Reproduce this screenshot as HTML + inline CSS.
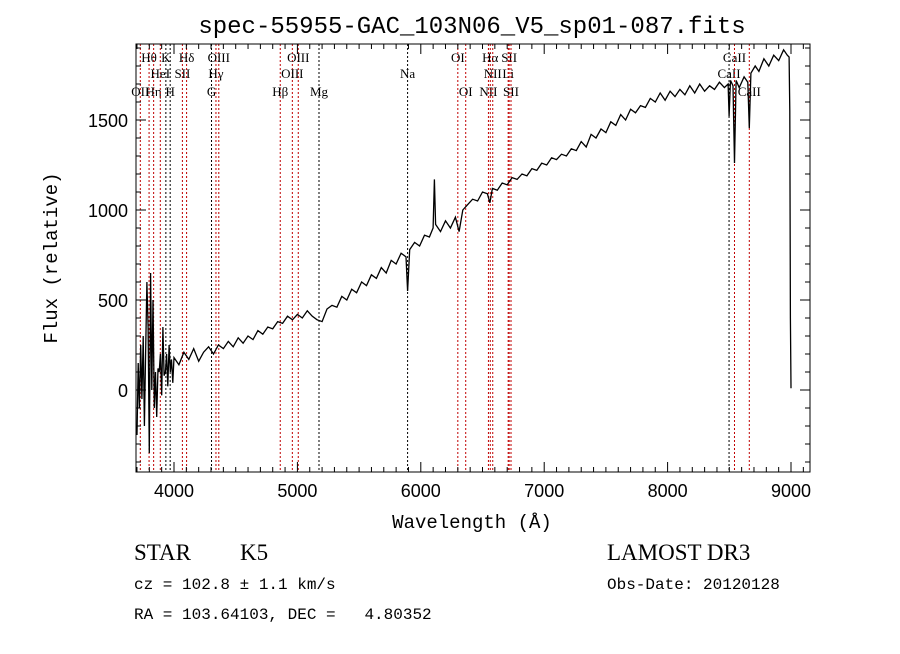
<!DOCTYPE html>
<html><head><meta charset="utf-8"><style>
body{margin:0;background:#fff;}
svg text{font-family:"Liberation Serif",serif;}
</style></head><body>
<svg id="chart" width="900" height="649" viewBox="0 0 900 649" xmlns="http://www.w3.org/2000/svg">
<rect width="900" height="649" fill="#fff"/>
<text x="472" y="33" font-size="24" text-anchor="middle" style="font-family:'Liberation Mono',monospace">spec-55955-GAC_103N06_V5_sp01-087.fits</text>
<g id="lines"></g>
<g id="spec"></g>
<g id="axes"></g>
<text x="472" y="528" font-size="19" text-anchor="middle" style="font-family:'Liberation Mono',monospace">Wavelength (Å)</text>
<text transform="translate(57,258) rotate(-90)" font-size="19" text-anchor="middle" style="font-family:'Liberation Mono',monospace">Flux (relative)</text>
<text x="134" y="560" font-size="23">STAR</text>
<text x="240" y="560" font-size="23">K5</text>
<text x="607" y="560" font-size="23">LAMOST DR3</text>
<text x="134" y="589" font-size="16" style="font-family:'Liberation Mono',monospace">cz = 102.8 ± 1.1 km/s</text>
<text x="607" y="589" font-size="16" style="font-family:'Liberation Mono',monospace">Obs-Date: 20120128</text>
<text x="134" y="619" font-size="16" style="font-family:'Liberation Mono',monospace" xml:space="preserve">RA = 103.64103, DEC =   4.80352</text>
</svg>
<script>
const waves = [3700,3710,3720,3730,3740,3750,3760,3770,3780,3790,3800,3810,3820,3830,3840,3850,3860,3870,3880,3890,3900,3910,3920,3930,3940,3950,3960,3970,3980,3990,
4000,4040,4080,4120,4160,4200,4240,4280,4320,4360,4400,4440,4480,4520,4560,4600,4640,4680,4720,4760,4800,4840,4880,4920,4960,5000,
5040,5080,5120,5160,5200,5240,5280,5320,5360,5400,5440,5480,5520,5560,5600,5640,5680,5720,5760,5800,5840,5880,5893,5910,5950,5990,6030,6070,6100,6110,6120,6160,6200,6240,6280,6310,6340,6380,6420,6460,6500,6540,6560,6580,6620,6660,6700,6740,6780,6820,6860,6900,6940,6980,
7020,7060,7100,7140,7180,7220,7260,7300,7340,7380,7420,7460,7500,7540,7580,7620,7660,7700,7740,7780,7820,7860,7900,7940,7980,
8020,8060,8100,8140,8180,8220,8260,8300,8340,8380,8420,8460,8490,8498,8510,8530,8542,8555,8580,8620,8650,8662,8675,8710,8740,8780,8820,8860,8900,8940,8970,8985,8990,8995,9000];
const flux = [-250,150,-100,250,-50,300,-200,200,600,350,-350,650,0,500,-100,100,-150,120,100,200,-30,350,80,100,200,20,250,100,170,40,
180,140,210,170,230,160,210,240,200,250,230,270,240,290,260,300,280,330,310,350,340,380,370,410,390,420,
400,440,410,390,380,450,470,460,520,500,560,540,600,580,640,620,680,650,720,700,760,740,550,780,820,800,860,850,900,1170,920,880,940,900,960,880,1000,1030,1060,1050,1100,1090,1040,1120,1110,1150,1140,1180,1170,1200,1190,1230,1220,1260,
1250,1290,1280,1310,1300,1340,1330,1380,1350,1420,1400,1450,1430,1490,1470,1530,1500,1560,1540,1580,1570,1620,1600,1650,1610,
1660,1630,1670,1640,1690,1650,1700,1660,1690,1670,1710,1680,1700,1520,1720,1690,1261,1720,1680,1740,1710,1455,1760,1800,1770,1840,1800,1860,1830,1890,1860,1850,1550,400,10];
const majorX = [4000,5000,6000,7000,8000,9000];
const majorY = [0,500,1000,1500];
const lineWaves = [3727,3798,3835,3889,3934,3969,4068,4102,4304,4340,4363,4861,4959,5007,5175,5893,6300,6364,6548,6563,6583,6708,6716,6731,8498,8542,8662];
const lineLabels = ["OII","Hθ","Hη","HeI","K","H","SII","Hδ","G","Hγ","OIII","Hβ","OIII","OIII","Mg","Na","OI","OI","NII","Hα","NII","Li","SII","SII","CaII","CaII","CaII"];
const lineRows = [2,0,2,1,0,2,1,0,2,1,0,2,1,0,2,1,0,2,2,0,1,1,0,2,1,0,2];
const lineRed = [1,1,1,1,0,0,1,1,0,1,1,1,1,1,0,0,1,1,1,1,1,1,1,1,0,1,1];

const L=136,R=810,T=44,B=472;
const xs = w => 174 + (w-4000)*0.1234;
const ys = f => 390 - f*0.18;
const NS="http://www.w3.org/2000/svg";
function mk(tag, attrs, parent){const e=document.createElementNS(NS,tag);for(const k in attrs)e.setAttribute(k,attrs[k]);parent.appendChild(e);return e;}

const gl=document.getElementById('lines');
const rowY=[62,78,96];
lineWaves.forEach((w,i)=>{
  const ln=mk('line',{x1:xs(w),x2:xs(w),y1:T,y2:B,stroke:lineRed[i]?'#c00000':'#000','stroke-width':1,'stroke-dasharray':'2,2'},gl);
  
  
  const t=mk('text',{x:xs(w),y:rowY[lineRows[i]],'font-size':13,'text-anchor':'middle'},gl);
  t.textContent=lineLabels[i];
  
  
});

const gs=document.getElementById('spec');
const pts=waves.map((w,i)=>xs(w).toFixed(1)+','+Math.max(T,Math.min(B,ys(flux[i]))).toFixed(1)).join(' ');
const pl=mk('polyline',{points:pts,fill:'none',stroke:'#000','stroke-width':1.3},gs);



const ga=document.getElementById('axes');
const fr=mk('rect',{x:L,y:T,width:R-L,height:B-T,fill:'none',stroke:'#000','stroke-width':1},ga);


for(let w=3700;w<=9100;w+=100){
  const x=xs(w); if(x<L||x>R)continue;
  const len=(w%1000===0)?10:5;
  mk('line',{x1:x,x2:x,y1:B,y2:B-len,stroke:'#000'},ga);
  mk('line',{x1:x,x2:x,y1:T,y2:T+len,stroke:'#000'},ga);
}
for(let f=-400;f<=1900;f+=100){
  const y=ys(f); if(y<T||y>B)continue;
  const len=(f%500===0)?10:5;
  mk('line',{x1:L,x2:L+len,y1:y,y2:y,stroke:'#000'},ga);
  mk('line',{x1:R,x2:R-len,y1:y,y2:y,stroke:'#000'},ga);
}
majorX.forEach(w=>{
  const t=mk('text',{x:xs(w),y:B+25,'font-size':18,'text-anchor':'middle',style:"font-family:'Liberation Sans',sans-serif"},ga);
  t.textContent=w;
  
  
});
majorY.forEach(f=>{
  const t=mk('text',{x:L-8,y:ys(f)+7,'font-size':18,'text-anchor':'end',style:"font-family:'Liberation Sans',sans-serif"},ga);
  t.textContent=f;
  
  
});
</script>
</body></html>
